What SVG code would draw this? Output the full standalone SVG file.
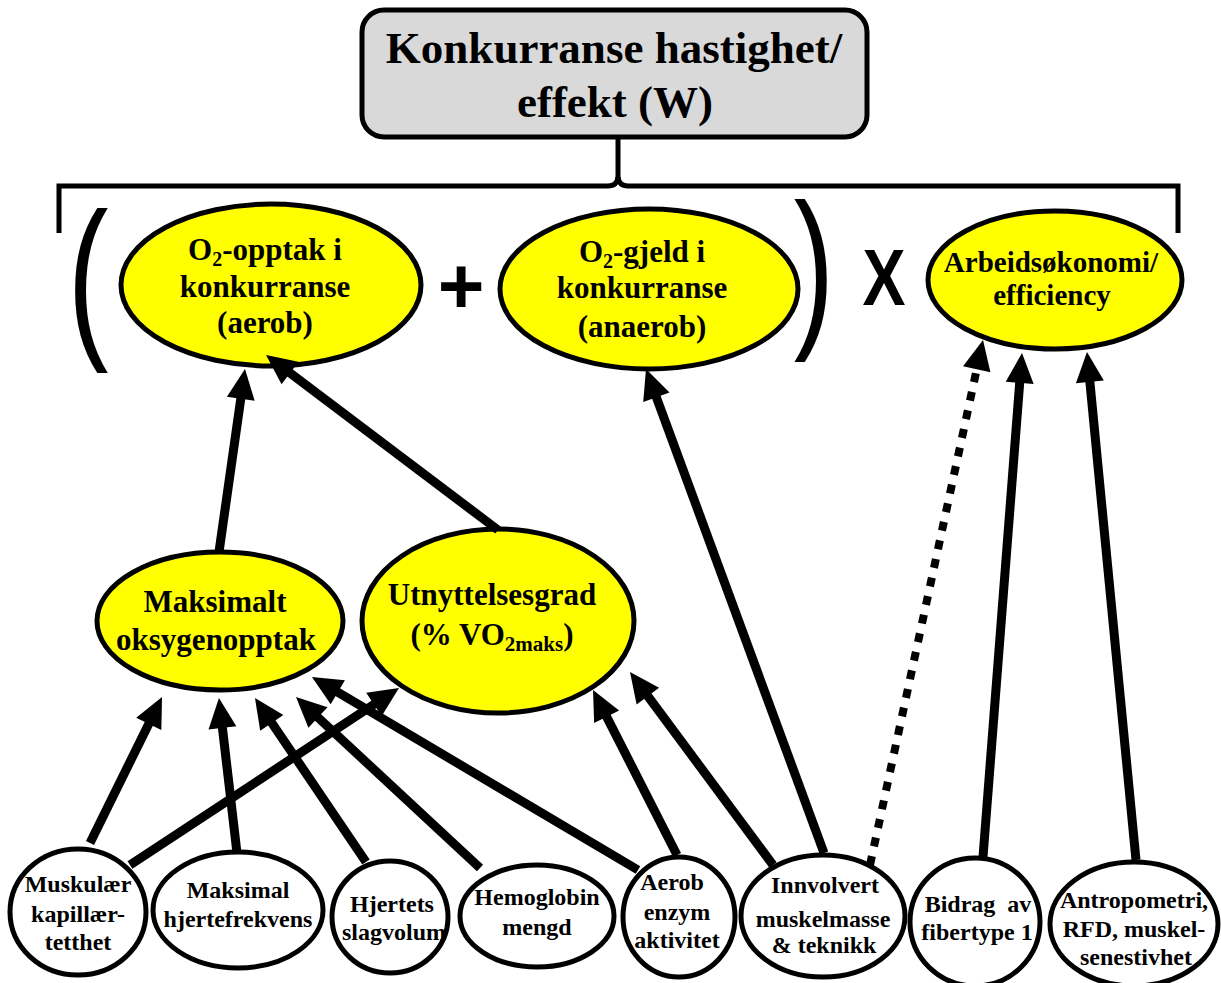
<svg xmlns="http://www.w3.org/2000/svg" width="1221" height="983" viewBox="0 0 1221 983">
<style>
.t{font-family:"Liberation Serif","Times New Roman",serif;font-weight:bold;fill:#000;text-anchor:middle}
.yel{fill:#ffff00;stroke:#000;stroke-width:5}
.wht{fill:#fff;stroke:#000;stroke-width:5}
.arr{stroke:#000;stroke-width:9;fill:none;marker-end:url(#ah)}
.dash{stroke:#000;stroke-width:8;fill:none;stroke-dasharray:9 10;marker-end:url(#ah)}
.sym{font-family:"Liberation Sans",Arial,sans-serif;fill:#000;text-anchor:middle}
</style>
<defs>
<marker id="ah" markerUnits="userSpaceOnUse" markerWidth="30" markerHeight="28" refX="8" refY="14" orient="auto" overflow="visible">
<path d="M0,0 L30,14 L0,28 z" fill="#000"/>
</marker>
</defs>
<rect width="1221" height="983" fill="#fff"/>

<g id="title">
<rect x="362" y="10" width="505" height="127" rx="22" ry="22" fill="#d9d9d9" stroke="#000" stroke-width="5"/>
<text class="t" x="614" y="63" font-size="45">Konkurranse hastighet/</text>
<text class="t" x="615" y="117" font-size="45">effekt (W)</text>
</g>

<g id="brace">
<path d="M59,233 L59,186 L608,186 Q617,186 618,177 Q619,186 628,186 L1178,186 L1178,233" fill="none" stroke="#000" stroke-width="5"/>
<path d="M618,178 L618,137" fill="none" stroke="#000" stroke-width="5"/>
</g>

<g id="symbols">
<text class="sym" transform="translate(88,336) scale(0.7,1)" x="0" y="0" font-size="176">(</text>
<text class="sym" transform="translate(814,326) scale(0.7,1)" x="0" y="0" font-size="174">)</text>
<text class="sym" x="461" y="313" font-size="80" font-weight="bold">+</text>
<text class="sym" x="884" y="305" font-size="80" font-weight="bold" textLength="43" lengthAdjust="spacingAndGlyphs">X</text>
</g>

<g id="o2opptak">
<ellipse class="yel" cx="271" cy="285" rx="150" ry="81"/>
<text class="t" x="265" y="260" font-size="31">O<tspan font-size="20" dy="6">2</tspan><tspan dy="-6">-opptak i</tspan></text>
<text class="t" x="265" y="297" font-size="31">konkurranse</text>
<text class="t" x="265" y="333" font-size="31">(aerob)</text>
</g>

<g id="o2gjeld">
<ellipse class="yel" cx="649" cy="289" rx="149" ry="80"/>
<text class="t" x="642" y="262" font-size="31">O<tspan font-size="20" dy="6">2</tspan><tspan dy="-6">-gjeld i</tspan></text>
<text class="t" x="642" y="298" font-size="31">konkurranse</text>
<text class="t" x="642" y="337" font-size="31">(anaerob)</text>
</g>

<g id="arbeid">
<ellipse class="yel" cx="1055" cy="280" rx="127" ry="69"/>
<text class="t" x="1051" y="272" font-size="29">Arbeidsøkonomi/</text>
<text class="t" x="1052" y="305" font-size="29">efficiency</text>
</g>

<g id="maksimalt">
<ellipse class="yel" cx="220" cy="621" rx="123" ry="69"/>
<text class="t" x="215" y="612" font-size="31">Maksimalt</text>
<text class="t" x="216" y="650" font-size="31">oksygenopptak</text>
</g>

<g id="utnyttelse">
<ellipse class="yel" cx="498" cy="621" rx="136" ry="92"/>
<text class="t" x="492" y="605" font-size="31">Utnyttelsesgrad</text>
<text class="t" x="492" y="645" font-size="31">(% VO<tspan font-size="21" dy="6">2maks</tspan><tspan dy="-6">)</tspan></text>
</g>

<g id="connectors">
<path class="arr" d="M219,552 L241.9,390.8"/>
<path class="arr" d="M498,530 L283.6,368.2"/>
<path class="arr" d="M824,853 L653.6,389.7"/>
<path class="dash" d="M870,865 L978.4,361.5"/>
<path class="arr" d="M983,857 L1020.3,374.9"/>
<path class="arr" d="M1136,860 L1089.1,373.9"/>
<path class="arr" d="M90,843 L152.3,716.7"/>
<path class="arr" d="M130,865 L380.6,700.1"/>
<path class="arr" d="M237,853 L221.5,719.9"/>
<path class="arr" d="M366,862 L267.3,716.2"/>
<path class="arr" d="M480,868 L312.1,712"/>
<path class="arr" d="M638,870 L330.9,688.2"/>
<path class="arr" d="M677,855 L603,709.6"/>
<path class="arr" d="M773,865 L643.1,689.7"/>
</g>

<g id="muskular">
<ellipse class="wht" cx="78" cy="912" rx="68" ry="63"/>
<text class="t" x="78" y="892" font-size="24">Muskulær</text>
<text class="t" x="78" y="922" font-size="24">kapillær-</text>
<text class="t" x="78" y="950" font-size="24">tetthet</text>
</g>

<g id="hjertefrekvens">
<ellipse class="wht" cx="238" cy="910" rx="85" ry="58"/>
<text class="t" x="238" y="898" font-size="24">Maksimal</text>
<text class="t" x="238" y="927" font-size="24">hjertefrekvens</text>
</g>

<g id="slagvolum">
<ellipse class="wht" cx="390" cy="917" rx="58" ry="56"/>
<text class="t" x="392" y="912" font-size="24">Hjertets</text>
<text class="t" x="394" y="940" font-size="24">slagvolum</text>
</g>

<g id="hemoglobin">
<ellipse class="wht" cx="537" cy="916" rx="77" ry="51"/>
<text class="t" x="537" y="905" font-size="24">Hemoglobin</text>
<text class="t" x="537" y="935" font-size="24">mengd</text>
</g>

<g id="aerob">
<ellipse class="wht" cx="679" cy="917" rx="56" ry="60"/>
<text class="t" x="672" y="890" font-size="24">Aerob</text>
<text class="t" x="677" y="920" font-size="24">enzym</text>
<text class="t" x="677" y="948" font-size="24">aktivitet</text>
</g>

<g id="innvolvert">
<ellipse class="wht" cx="823" cy="916" rx="82" ry="61"/>
<text class="t" x="825" y="893" font-size="24">Innvolvert</text>
<text class="t" x="823" y="927" font-size="24">muskelmasse</text>
<text class="t" x="824" y="953" font-size="24">&amp; teknikk</text>
</g>

<g id="fibertype">
<ellipse class="wht" cx="975" cy="922" rx="65" ry="64"/>
<text class="t" x="978" y="912" font-size="24" xml:space="preserve">Bidrag  av</text>
<text class="t" x="977" y="940" font-size="24">fibertype 1</text>
</g>

<g id="antropometri">
<ellipse class="wht" cx="1134" cy="924" rx="84" ry="62"/>
<text class="t" x="1134" y="908" font-size="24">Antropometri,</text>
<text class="t" x="1134" y="937" font-size="24">RFD, muskel-</text>
<text class="t" x="1136" y="965" font-size="24">senestivhet</text>
</g>
</svg>
